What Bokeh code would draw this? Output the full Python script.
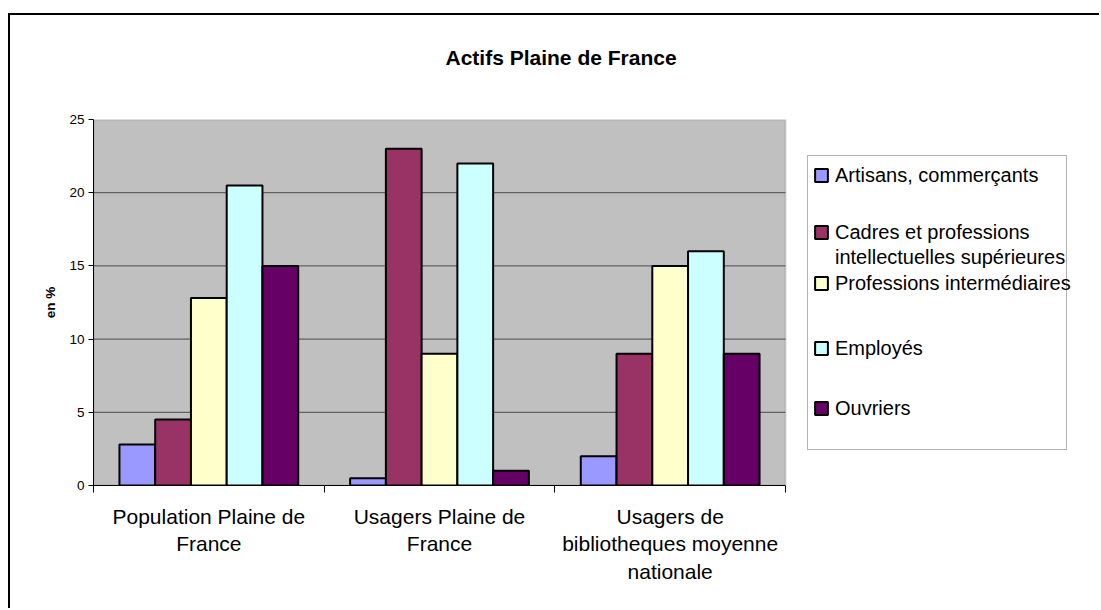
from bokeh.plotting import figure
from bokeh.models import Range1d, FixedTicker, Legend, LegendItem, BoxAnnotation
from bokeh.embed import file_html
from bokeh.resources import INLINE

# ---- data ----
categories = ["Population Plaine de\nFrance",
              "Usagers Plaine de\nFrance",
              "Usagers de\nbibliotheques moyenne\nnationale"]
series_names = ["Artisans, commerçants",
                "Cadres et professions\nintellectuelles supérieures",
                "Professions intermédiaires",
                "Employés",
                "Ouvriers"]
artisans = [2.8, 0.5, 2.0]
cadres = [4.5, 23.0, 9.0]
prof_inter = [12.8, 9.0, 15.0]
employes = [20.5, 22.0, 16.0]
ouvriers = [15.0, 1.0, 9.0]
colors = ["#9999FF", "#993366", "#FFFFCC", "#CCFFFF", "#660066"]
y_ticks = [0, 5, 10, 15, 20, 25]

FONT = "Liberation Sans"
W, H = 1091, 595            # canvas size
FL, FT, FH = 83, 104, 366   # frame left / top offsets and height
PLOT_W = 692                # width of the grey plotting area in px
n = len(categories)
x_end = n * (W - FL) / PLOT_W   # frame also hosts the legend to the right

# legend layout (px, relative to the frame's bottom-left corner)
LEG_BOX = dict(left=714, right=973, bottom=36, top=330)
LEG_X = 720
LEG_ROWS_Y = [298, 241, 216, 190, 125, 65]   # one per legend text line
ROW_H = 24

p = figure(width=W, height=H, output_backend="svg", toolbar_location=None,
           x_range=Range1d(0, x_end), y_range=Range1d(0, y_ticks[-1]),
           min_border_left=FL, min_border_right=0,
           min_border_top=FT, min_border_bottom=H - FT - FH)
p.margin = (13, 0, 0, 8)
p.styles = {"border-left": "2px solid black", "border-top": "2px solid black"}

p.background_fill_color = "white"
p.border_fill_color = "white"
p.outline_line_color = None
p.xgrid.visible = False
p.ygrid.visible = False

# grey plot area
area = BoxAnnotation(left=0, right=n, bottom=0, top=y_ticks[-1],
                     fill_color="#C0C0C0", fill_alpha=1.0,
                     line_color="#808080", line_width=2, level="underlay")
p.add_layout(area)

# horizontal grid lines
gy = y_ticks[1:-1]
p.segment(x0=[0] * len(gy), x1=[n] * len(gy), y0=gy, y1=gy,
          line_color="#4a4a4a", line_width=1)

values = [artisans, cadres, prof_inter, employes, ouvriers]
bw = 0.155
renderers = []
for k, (vals, col) in enumerate(zip(values, colors)):
    xs = [i + 0.5 + (k - 2) * bw for i in range(n)]
    r = p.vbar(x=xs, top=vals, bottom=0, width=bw, fill_color=col,
               line_color="black", line_width=2)
    renderers.append(r)

# invisible renderer for continuation lines of wrapped legend labels
blank = p.vbar(x=[], top=[], width=bw, fill_alpha=0, line_alpha=0)

# legend frame
box = BoxAnnotation(left_units="screen", right_units="screen",
                    top_units="screen", bottom_units="screen",
                    fill_color="white", fill_alpha=1.0,
                    line_color="black", line_width=1, **LEG_BOX)
p.add_layout(box)

# legend rows (Excel-like irregular spacing)
row = 0
for name, r in zip(series_names, renderers):
    for j, line in enumerate(name.split("\n")):
        leg = Legend(items=[LegendItem(label=line, renderers=[r if j == 0 else blank])],
                     location=(LEG_X, LEG_ROWS_Y[row]), padding=0, margin=0,
                     glyph_width=16, glyph_height=16, label_standoff=6,
                     label_height=ROW_H, label_text_font=FONT,
                     label_text_font_size="20px", label_text_color="black",
                     border_line_color=None, background_fill_alpha=0)
        p.add_layout(leg, "center")
        row += 1

# title (empty second line lifts it up inside the top panel)
p.title.text = "Actifs Plaine de France\n "
p.title.text_font = FONT
p.title.text_font_size = "21px"
p.title.text_font_style = "bold"
p.title.text_color = "black"
p.title.align = "left"
p.title.offset = 352
p.title.standoff = 56

# x axis
p.xaxis.bounds = (0, n)
p.xaxis.ticker = FixedTicker(ticks=[i + 0.5 for i in range(n)],
                             minor_ticks=list(range(n + 1)))
p.xaxis.major_label_overrides = {i + 0.5: c for i, c in enumerate(categories)}
p.xaxis.major_tick_out = 0
p.xaxis.major_tick_in = 0
p.xaxis.minor_tick_out = 7
p.xaxis.minor_tick_in = 0
p.xaxis.minor_tick_line_color = "black"
p.xaxis.axis_line_color = "black"
p.xaxis.major_label_text_font = FONT
p.xaxis.major_label_text_font_size = "21px"
p.xaxis.major_label_text_color = "black"
p.xaxis.major_label_standoff = 12

# y axis
p.yaxis.ticker = FixedTicker(ticks=y_ticks)
p.yaxis.major_tick_out = 5
p.yaxis.major_tick_in = 0
p.yaxis.minor_tick_line_color = None
p.yaxis.axis_line_color = "black"
p.yaxis.major_label_text_font = FONT
p.yaxis.major_label_text_font_size = "13.5px"
p.yaxis.major_label_text_color = "black"
p.yaxis.major_label_standoff = 4
p.yaxis.axis_label = "en %"
p.yaxis.axis_label_text_font = FONT
p.yaxis.axis_label_text_font_size = "13.5px"
p.yaxis.axis_label_text_font_style = "bold"
p.yaxis.axis_label_text_color = "black"
p.yaxis.axis_label_standoff = 8

open("out.html", "w").write(file_html(p, INLINE))
